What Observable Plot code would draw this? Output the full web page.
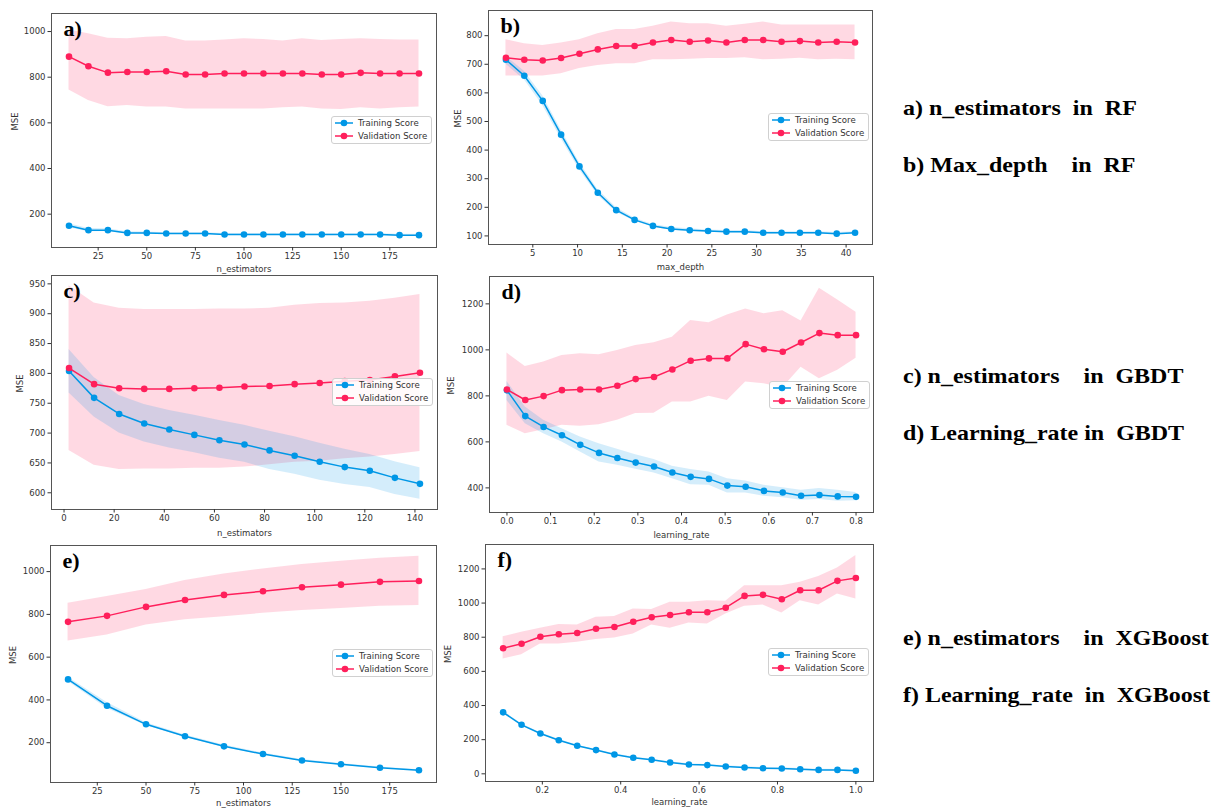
<!DOCTYPE html>
<html>
<head>
<meta charset="utf-8">
<script src="https://cdn.jsdelivr.net/npm/d3@7"></script>
<script src="https://cdn.jsdelivr.net/npm/@observablehq/plot@0.6"></script>
<style>
  html, body { margin: 0; padding: 0; background: #fff; }
  #root { position: relative; width: 1219px; height: 809px; overflow: hidden; }
  .panel { position: absolute; }
  .legend { position: absolute; box-sizing: border-box; border: 1px solid #d0d0d0; border-radius: 3px; background: rgba(255,255,255,0.85); }
  .caption { position: absolute; font-family: "Liberation Serif", "Times New Roman", serif; font-weight: bold; font-size: 22px; line-height: 22px; white-space: pre; color: #000; transform: scaleX(1.09); transform-origin: 0 0; }
</style>
</head>
<body>
<div id="root"></div>
<script>
// ---------- Data ----------
const BLUE = "#0097E6";
const PINK = "#FF1F5B";
const seriesNames = ["Training Score", "Validation Score"];
const yAxisLabel = "MSE";

// a) n_estimators in RF
const aX = [10,20,30,40,50,60,70,80,90,100,110,120,130,140,150,160,170,180,190];
const aTrain   = [149,130,130,118,118,115,115,115,111,111,111,111,111,111,111,111,111,108,108];
const aTrainHi = [158,137,136,123,122,119,119,119,115,115,115,115,115,114,114,114,114,112,112];
const aTrainLo = [140,123,124,113,114,111,111,111,107,107,107,107,107,107,107,107,107,104,104];
const aVal   = [890,848,820,823,823,826,812,812,816,816,816,816,816,812,812,819,816,816,816];
const aValHi = [1007,990,971,968,975,978,958,958,963,968,965,958,968,961,965,968,965,963,963];
const aValLo = [744,698,671,676,669,669,661,661,661,661,661,666,669,661,658,666,661,666,669];
const aTicksX = [25,50,75,100,125,150,175];
const aTicksY = [200,400,600,800,1000];

// b) max_depth in RF
const bX = [2,4.05,6.11,8.16,10.21,12.26,14.32,16.37,18.42,20.47,22.53,24.58,26.63,28.68,30.74,32.79,34.84,36.89,38.95,41];
const bTrain   = [716,660,572,454,343,251,190,156,135,124,120,117,115,115,111,111,111,111,108,111];
const bTrainHi = [728,676,590,470,357,262,199,162,140,129,125,121,119,119,115,115,115,115,112,115];
const bTrainLo = [700,646,556,440,331,242,183,151,131,120,116,113,111,111,107,107,107,107,104,107];
const bVal   = [723,716,713,722,737,752,764,764,776,785,779,783,776,785,785,779,781,776,779,776];
const bValHi = [786,772,766,774,786,807,822,822,833,848,842,842,833,840,848,837,837,837,837,837];
const bValLo = [659,659,659,667,685,696,702,702,716,716,718,720,720,723,716,718,721,716,718,716];
const bTicksX = [5,10,15,20,25,30,35,40];
const bTicksY = [100,200,300,400,500,600,700,800];

// c) n_estimators in GBDT
const cX = [2,12,22,32,42,52,62,72,82,92,102,112,122,132,142];
const cTrain   = [804,759,732,716,706,697,688,681,671,662,652,643,637,625,615];
const cTrainHi = [840,793,763,748,738,730,721,713,703,694,683,673,664,652,642];
const cTrainLo = [767,727,700,685,675,667,658,651,639,631,621,614,609,597,589];
const cVal   = [809,782,775,774,774,775,776,778,779,782,784,787,789,795,801];
const cValHi = [947,918,909,907,907,907,908,908,909,914,917,918,921,926,932];
const cValLo = [671,646,639,640,640,641,641,643,647,651,653,657,660,664,669];
const cTicksX = [0,20,40,60,80,100,120,140];
const cTicksY = [600,650,700,750,800,850,900,950];

// d) learning_rate in GBDT
const dX = [0,0.042,0.084,0.126,0.168,0.211,0.253,0.295,0.337,0.379,0.421,0.463,0.505,0.547,0.589,0.632,0.674,0.716,0.758,0.8];
const dTrain   = [824,712,665,629,587,552,530,510,493,467,448,439,410,405,387,380,366,369,363,361];
const dTrainHi = [863,752,694,657,621,592,568,544,523,494,480,469,440,430,411,401,390,397,390,380];
const dTrainLo = [780,679,635,599,556,513,498,481,465,440,414,412,378,378,364,357,346,349,342,344];
const dVal   = [828,782,799,825,828,828,844,873,882,915,953,963,963,1025,1003,992,1032,1073,1064,1064];
const dValHi = [986,928,947,976,983,979,997,1019,1031,1055,1128,1118,1152,1178,1157,1170,1125,1268,1217,1164];
const dValLo = [672,635,653,672,668,675,694,723,725,773,773,798,780,860,853,835,925,874,911,964];
const dTicksX = [0,0.1,0.2,0.3,0.4,0.5,0.6,0.7,0.8];
const dTicksY = [400,600,800,1000,1200];

// e) n_estimators in XGBoost
const eX = [10,30,50,70,90,110,130,150,170,190];
const eTrain   = [496,373,286,230,183,147,117,99,83,71];
const eTrainHi = [506,388,293,236,189,152,121,103,86,74];
const eTrainLo = [486,360,280,225,178,143,113,95,80,68];
const eVal   = [765,793,835,867,891,908,927,939,952,956];
const eValHi = [852,883,916,958,989,1012,1033,1048,1062,1072];
const eValLo = [676,704,750,775,789,805,818,828,838,841];
const eTicksX = [25,50,75,100,125,150,175];
const eTicksY = [200,400,600,800,1000];

// f) learning_rate in XGBoost
const fX = [0.1,0.147,0.195,0.242,0.289,0.337,0.384,0.432,0.479,0.526,0.574,0.621,0.668,0.716,0.763,0.811,0.858,0.905,0.953,1.0];
const fTrain   = [360,287,236,197,164,139,113,94,82,66,55,51,43,37,33,31,27,23,23,18];
const fTrainHi = [368,293,241,202,168,143,117,98,86,70,59,55,47,41,37,35,31,27,27,22];
const fTrainLo = [352,281,231,192,160,135,109,90,78,62,51,47,39,33,29,27,23,19,19,14];
const fVal   = [735,762,803,817,825,850,860,891,917,930,946,946,973,1042,1048,1022,1075,1075,1130,1147];
const fValHi = [803,829,852,874,872,917,922,965,962,1005,1005,1014,1010,1102,1102,1102,1122,1155,1206,1278];
const fValLo = [672,698,760,760,770,786,795,819,872,852,883,878,936,981,989,942,1014,989,1053,1024];
const fTicksX = [0.2,0.4,0.6,0.8,1.0];
const fTicksY = [0,200,400,600,800,1000,1200];

const captions = [
  "a) n_estimators  in  RF",
  "b) Max_depth    in  RF",
  "c) n_estimators    in  GBDT",
  "d) Learning_rate in  GBDT",
  "e) n_estimators    in  XGBoost",
  "f) Learning_rate  in  XGBoost"
];

// ---------- Layout / panel specs ----------
const panels = [
  {letter: "a)", xLabel: "n_estimators", X: aX, t: aTrain, tHi: aTrainHi, tLo: aTrainLo, v: aVal, vHi: aValHi, vLo: aValLo,
   xt: aTicksX, yt: aTicksY, xDom: [1, 199], yDom: [54, 1079], fmt: null,
   box: {left: 0, top: 0, w: 440, h: 280}, m: {l: 51, t: 13, r: 4, b: 33}, ylo: 36, xlo: 22,
   legend: {x: 331, y: 116}},
  {letter: "b)", xLabel: "max_depth", X: bX, t: bTrain, tHi: bTrainHi, tLo: bTrainLo, v: bVal, vHi: bValHi, vLo: bValLo,
   xt: bTicksX, yt: bTicksY, xDom: [0.05, 42.95], yDom: [70, 888], fmt: null,
   box: {left: 440, top: 0, w: 440, h: 280}, m: {l: 48, t: 10, r: 8, b: 36}, ylo: 30, xlo: 23,
   legend: {x: 768, y: 113}},
  {letter: "c)", xLabel: "n_estimators", X: cX, t: cTrain, tHi: cTrainHi, tLo: cTrainLo, v: cVal, vHi: cValHi, vLo: cValLo,
   xt: cTicksX, yt: cTicksY, xDom: [-5, 149], yDom: [572, 964], fmt: null,
   box: {left: 0, top: 268, w: 440, h: 272}, m: {l: 51, t: 7, r: 3, b: 31}, ylo: 31, xlo: 24,
   legend: {x: 332, y: 378}},
  {letter: "d)", xLabel: "learning_rate", X: dX, t: dTrain, tHi: dTrainHi, tLo: dTrainLo, v: dVal, vHi: dValHi, vLo: dValLo,
   xt: dTicksX, yt: dTicksY, xDom: [-0.04, 0.84], yDom: [293, 1319], fmt: ".1f",
   box: {left: 440, top: 268, w: 440, h: 272}, m: {l: 49, t: 8, r: 7, b: 28}, ylo: 38, xlo: 23,
   legend: {x: 769, y: 381}},
  {letter: "e)", xLabel: "n_estimators", X: eX, t: eTrain, tHi: eTrainHi, tLo: eTrainLo, v: eVal, vHi: eValHi, vLo: eValLo,
   xt: eTicksX, yt: eTicksY, xDom: [1, 199], yDom: [14, 1122], fmt: null,
   box: {left: 0, top: 538, w: 440, h: 271}, m: {l: 50, t: 7, r: 4, b: 27}, ylo: 37, xlo: 21,
   legend: {x: 332, y: 649}},
  {letter: "f)", xLabel: "learning_rate", X: fX, t: fTrain, tHi: fTrainHi, tLo: fTrainLo, v: fVal, vHi: fValHi, vLo: fValLo,
   xt: fTicksX, yt: fTicksY, xDom: [0.055, 1.045], yDom: [-45, 1343], fmt: ".1f",
   box: {left: 440, top: 538, w: 440, h: 271}, m: {l: 45, t: 6, r: 7, b: 28}, ylo: 37, xlo: 21,
   legend: {x: 768, y: 648}}
];

const captionPos = [
  {x: 903, base: 115}, {x: 903, base: 172},
  {x: 903, base: 383}, {x: 903, base: 440},
  {x: 903, base: 645}, {x: 903, base: 702}
];

const root = document.getElementById("root");

panels.forEach((p) => {
  const rows = p.X.map((x, i) => ({x, t: p.t[i], tHi: p.tHi[i], tLo: p.tLo[i], v: p.v[i], vHi: p.vHi[i], vLo: p.vLo[i]}));
  const tf = p.fmt ? d3.format(p.fmt) : d3.format("d");
  const chart = Plot.plot({
    width: p.box.w,
    height: p.box.h,
    marginLeft: p.m.l, marginTop: p.m.t, marginRight: p.m.r, marginBottom: p.m.b,
    style: {fontFamily: "DejaVu Sans, sans-serif", fontSize: "8.5px", color: "#333", background: "transparent", overflow: "visible"},
    x: {domain: p.xDom},
    y: {domain: p.yDom},
    marks: [
      Plot.areaY(rows, {x: "x", y1: "vLo", y2: "vHi", fill: PINK, fillOpacity: 0.17}),
      Plot.areaY(rows, {x: "x", y1: "tLo", y2: "tHi", fill: BLUE, fillOpacity: 0.17}),
      Plot.line(rows, {x: "x", y: "t", stroke: BLUE, strokeWidth: 1.5}),
      Plot.dot(rows, {x: "x", y: "t", fill: BLUE, r: 3.3}),
      Plot.line(rows, {x: "x", y: "v", stroke: PINK, strokeWidth: 1.5}),
      Plot.dot(rows, {x: "x", y: "v", fill: PINK, r: 3.3}),
      Plot.frame({stroke: "#555", strokeWidth: 1}),
      Plot.axisX({ticks: p.xt, tickFormat: tf, tickSize: 3.5, tickPadding: 2, label: null}),
      Plot.axisY({ticks: p.yt, tickFormat: "d", tickSize: 3.5, tickPadding: 2.5, label: null}),
      Plot.text([p.xLabel], {text: d => d, frameAnchor: "bottom", dy: p.xlo, lineAnchor: "middle", fill: "#333", fontSize: 8.5}),
      Plot.text([yAxisLabel], {text: d => d, frameAnchor: "left", dx: -p.ylo, rotate: -90, lineAnchor: "middle", fill: "#333", fontSize: 8.5}),
      Plot.text([p.letter], {text: d => d, frameAnchor: "top-left", dx: 12, dy: 7, lineAnchor: "top", textAnchor: "start",
        fontFamily: "Liberation Serif, Times New Roman, serif", fontWeight: "bold", fontSize: 22, fill: "#000"})
    ]
  });
  const wrap = document.createElement("div");
  wrap.className = "panel";
  wrap.style.left = p.box.left + "px";
  wrap.style.top = p.box.top + "px";
  wrap.appendChild(chart);
  root.appendChild(wrap);

  // Legend
  const lg = document.createElement("div");
  lg.className = "legend";
  lg.style.left = p.legend.x + "px";
  lg.style.top = p.legend.y + "px";
  lg.style.width = "101px";
  lg.style.height = "28px";
  root.appendChild(lg);
  const svg = d3.select(lg).append("svg").attr("width", 99).attr("height", 26).style("display", "block");
  [BLUE, PINK].forEach((c, i) => {
    const y = 6 + i * 13;
    svg.append("line").attr("x1", 3).attr("x2", 21).attr("y1", y).attr("y2", y).attr("stroke", c).attr("stroke-width", 1.5);
    svg.append("circle").attr("cx", 12).attr("cy", y).attr("r", 3.3).attr("fill", c);
    svg.append("text").attr("x", 26).attr("y", y).attr("dy", "0.35em")
      .attr("font-family", "DejaVu Sans, sans-serif").attr("font-size", 8.6).attr("fill", "#333")
      .text(seriesNames[i]);
  });
});

captions.forEach((c, i) => {
  const d = document.createElement("div");
  d.className = "caption";
  d.textContent = c;
  d.style.left = captionPos[i].x + "px";
  d.style.top = (captionPos[i].base - 18.4) + "px";
  root.appendChild(d);
});
</script>
</body>
</html>
